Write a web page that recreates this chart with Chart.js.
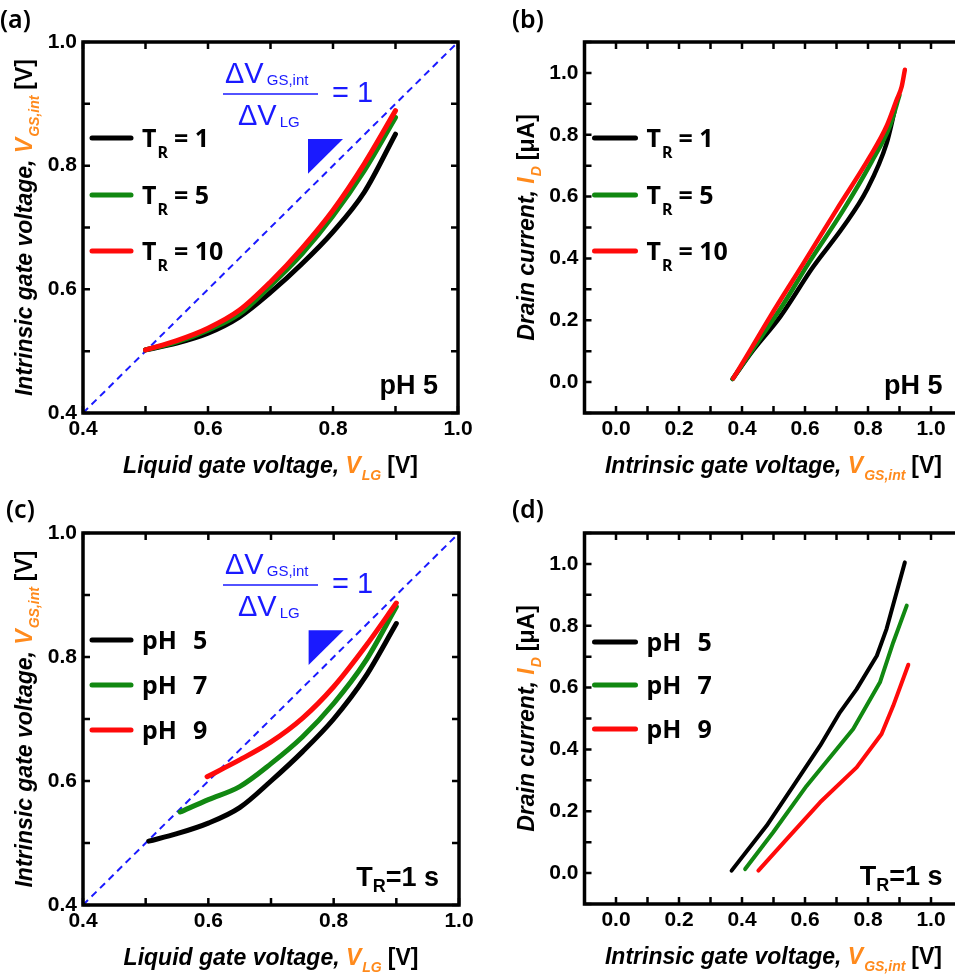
<!DOCTYPE html>
<html lang="en">
<head>
<meta charset="UTF-8">
<title>Intrinsic gate voltage and drain current</title>
<script src="https://cdn.jsdelivr.net/npm/chart.js"></script>
<style>
    html, body { margin: 0; padding: 0; background: #fff; overflow: hidden; }
    #page { position: relative; width: 955px; height: 979px; overflow: hidden; }
    canvas { position: absolute; }
</style>
</head>
<body>
<div id="page">
    <canvas id="chartA" width="480" height="490" style="left:0;top:0"></canvas>
    <canvas id="chartB" width="500" height="490" style="left:480px;top:0"></canvas>
    <canvas id="chartC" width="480" height="489" style="left:0;top:490px"></canvas>
    <canvas id="chartD" width="500" height="489" style="left:480px;top:490px"></canvas>
</div>
<script>
// (a) pH 5 : V_LG -> V_GS,int for three T_R
const vlgA      = [0.50, 0.55, 0.60, 0.65, 0.70, 0.75, 0.80, 0.85, 0.90];
const vgsA_TR1  = [0.502, 0.513, 0.529, 0.555, 0.595, 0.641, 0.693, 0.757, 0.851];
const vgsA_TR5  = [0.502, 0.515, 0.534, 0.560, 0.606, 0.657, 0.719, 0.792, 0.878];
const vgsA_TR10 = [0.502, 0.517, 0.537, 0.566, 0.612, 0.666, 0.728, 0.803, 0.889];

// (b) pH 5 : V_GS,int -> I_D
const vgsB_TR1  = [0.370, 0.436, 0.521, 0.626, 0.722, 0.796, 0.859, 0.885];
const idB_TR1   = [0.010, 0.104, 0.211, 0.373, 0.503, 0.621, 0.772, 0.880];
const vgsB_TR5  = [0.370, 0.450, 0.530, 0.611, 0.722, 0.810, 0.870, 0.900];
const idB_TR5   = [0.010, 0.130, 0.250, 0.384, 0.557, 0.710, 0.830, 0.929];
const vgsB_TR10 = [0.372, 0.430, 0.489, 0.595, 0.700, 0.806, 0.860, 0.891, 0.907, 0.917];
const idB_TR10  = [0.012, 0.110, 0.211, 0.384, 0.557, 0.729, 0.830, 0.913, 0.956, 1.010];

// (c) T_R = 1 s : V_LG -> V_GS,int for three pH
const vlgC_pH5 = [0.505, 0.55, 0.60, 0.65, 0.70, 0.75, 0.80, 0.85, 0.90];
const vgsC_pH5 = [0.503, 0.515, 0.532, 0.557, 0.600, 0.647, 0.700, 0.767, 0.854];
const vlgC_pH7 = [0.555, 0.60, 0.65, 0.70, 0.75, 0.80, 0.85, 0.90];
const vgsC_pH7 = [0.550, 0.570, 0.591, 0.628, 0.671, 0.725, 0.792, 0.881];
const vlgC_pH9 = [0.598, 0.65, 0.70, 0.75, 0.80, 0.85, 0.90];
const vgsC_pH9 = [0.607, 0.634, 0.663, 0.701, 0.752, 0.816, 0.887];

// (d) T_R = 1 s : V_GS,int -> I_D
const vgsD_pH5 = [0.367, 0.478, 0.563, 0.648, 0.711, 0.764, 0.828, 0.859, 0.917];
const idD_pH5  = [0.008, 0.153, 0.282, 0.412, 0.520, 0.595, 0.703, 0.790, 1.005];
const vgsD_pH7 = [0.410, 0.499, 0.605, 0.753, 0.838, 0.880, 0.923];
const idD_pH7  = [0.013, 0.132, 0.282, 0.466, 0.617, 0.746, 0.865];
const vgsD_pH9 = [0.452, 0.542, 0.648, 0.764, 0.843, 0.880, 0.928];
const idD_pH9  = [0.008, 0.110, 0.229, 0.342, 0.450, 0.541, 0.674];

// unity line and slope triangle (data units)
const unityLine = [0.4, 1.0];
const triX = [0.760, 0.816, 0.760];
const triY = [0.843, 0.843, 0.787];

const legendTR = ['1', '5', '10'];
const legendPH = ['5', '7', '9'];

const BLACK = '#000000', GREEN = '#118811', RED = '#ff0a0a', BLUE = '#1a1aff', ORANGE = '#ff8a1c';
const seriesColors = [BLACK, GREEN, RED];

const TITLE = 'italic bold 23px "Liberation Sans", Arial, sans-serif';
const TITLE_SUB = 'italic bold 14px "Liberation Sans", Arial, sans-serif';
const UPRIGHT = 'bold 23px "Liberation Sans", Arial, sans-serif';
const LEG = 'bold 25px "Noto Sans", sans-serif';
const LEG_SUB = 'bold 16px "Noto Sans", sans-serif';
const NOTE = 'bold 27px "Liberation Sans", Arial, sans-serif';
const NOTE_SUB = 'bold 18px "Liberation Sans", Arial, sans-serif';
const FRAC = '29px "Liberation Sans", Arial, sans-serif';
const FRAC_SUB = '15px "Liberation Sans", Arial, sans-serif';

function pts(xs, ys) { return xs.map((x, i) => ({ x: x, y: ys[i] })); }

function rich(ctx, parts, x, y, align) {
    let w = 0;
    parts.forEach(p => { ctx.font = p.f; w += ctx.measureText(p.t).width + (p.gap || 0); });
    let cx = align === 'center' ? x - w / 2 : align === 'right' ? x - w : x;
    parts.forEach(p => {
        ctx.font = p.f;
        ctx.fillStyle = p.c || '#000';
        ctx.fillText(p.t, cx, y + (p.dy || 0));
        cx += ctx.measureText(p.t).width + (p.gap || 0);
    });
}

function curve(xs, ys, color, order, width, smooth) {
    return {
        data: pts(xs, ys), borderColor: color, borderWidth: width, pointRadius: 0,
        showLine: true, fill: false, order: order, borderCapStyle: 'round', borderJoinStyle: 'round',
        tension: smooth ? 0.4 : 0, cubicInterpolationMode: smooth ? 'monotone' : 'default'
    };
}

function tenthLabel(v) {
    return Math.round(v * 10) % 2 === 0 ? v.toFixed(1) : '';
}

function makePanel(id, cfg) {
    const canvas = document.getElementById(id);
    const W = canvas.width, H = canvas.height;

    const decor = {
        id: 'decor',
        afterDraw(chart) {
            const ctx = chart.ctx, ca = chart.chartArea, xs = chart.scales.x, ys = chart.scales.y;
            ctx.save();
            ctx.textBaseline = 'alphabetic';
            ctx.textAlign = 'left';

            // slope triangle + fraction
            if (cfg.slope) {
                ctx.fillStyle = BLUE;
                ctx.beginPath();
                triX.forEach((v, i) => {
                    const px = xs.getPixelForValue(v), py = ys.getPixelForValue(triY[i]);
                    if (i === 0) ctx.moveTo(px, py); else ctx.lineTo(px, py);
                });
                ctx.closePath();
                ctx.fill();

                const L = ca.left, T = ca.top;
                rich(ctx, [{ t: 'ΔV', f: FRAC, c: BLUE, gap: 3 }, { t: 'GS,int', f: FRAC_SUB, c: BLUE, dy: 2 }], L + 142, T + 41, 'left');
                ctx.strokeStyle = BLUE; ctx.lineWidth = 1.5;
                ctx.beginPath(); ctx.moveTo(L + 140, T + 52); ctx.lineTo(L + 235, T + 52); ctx.stroke();
                rich(ctx, [{ t: 'ΔV', f: FRAC, c: BLUE, gap: 3 }, { t: 'LG', f: FRAC_SUB, c: BLUE, dy: 2 }], L + 155, T + 83, 'left');
                rich(ctx, [{ t: '= 1', f: FRAC, c: BLUE }], L + 249, T + 60, 'left');
            }

            // frame and inward ticks
            ctx.strokeStyle = '#000';
            ctx.lineWidth = 3.5;
            ctx.strokeRect(ca.left, ca.top, ca.right - ca.left, ca.bottom - ca.top);
            ctx.lineWidth = 2.5;
            ctx.beginPath();
            xs.ticks.forEach(t => {
                const p = xs.getPixelForValue(t.value);
                ctx.moveTo(p, ca.bottom); ctx.lineTo(p, ca.bottom - 7);
                ctx.moveTo(p, ca.top); ctx.lineTo(p, ca.top + 7);
            });
            ys.ticks.forEach(t => {
                const p = ys.getPixelForValue(t.value);
                ctx.moveTo(ca.left, p); ctx.lineTo(ca.left + 7, p);
                ctx.moveTo(ca.right, p); ctx.lineTo(ca.right - 7, p);
            });
            ctx.stroke();

            // axis titles
            rich(ctx, cfg.xTitle, (ca.left + ca.right) / 2, ca.bottom + 60, 'center');
            ctx.save();
            ctx.translate(ca.left - 51, (ca.top + ca.bottom) / 2);
            ctx.rotate(-Math.PI / 2);
            rich(ctx, cfg.yTitle, 0, 0, 'center');
            ctx.restore();

            // legend
            cfg.legend.rows.forEach((row, i) => {
                const y = ca.top + cfg.legend.y[i];
                ctx.strokeStyle = seriesColors[i];
                ctx.lineWidth = 5;
                ctx.lineCap = 'round';
                ctx.beginPath();
                ctx.moveTo(ca.left + cfg.legend.x0, y);
                ctx.lineTo(ca.left + cfg.legend.x1, y);
                ctx.stroke();
                rich(ctx, row, ca.left + cfg.legend.tx, y + 9, 'left');
            });

            // condition note
            rich(ctx, cfg.note, ca.right - 20, ca.bottom - 19, 'right');

            // panel label
            rich(ctx, [{ t: cfg.label, f: '600 25px "Noto Sans", sans-serif' }], cfg.labelX, cfg.labelY, 'left');
            ctx.restore();
        }
    };

    const tickFont = { family: '"Liberation Sans", Arial', size: 21, weight: 'bold' };

    return new Chart(canvas.getContext('2d'), {
        type: 'scatter',
        data: { datasets: cfg.datasets },
        options: {
            responsive: false,
            animation: false,
            layout: { padding: { left: 0, top: cfg.top, right: W - cfg.right, bottom: 0 } },
            plugins: { legend: { display: false }, tooltip: { enabled: false } },
            scales: {
                x: {
                    type: 'linear', min: cfg.xMin, max: cfg.xMax,
                    grid: { display: false, drawTicks: false }, border: { display: false },
                    ticks: { stepSize: 0.1, autoSkip: false, maxRotation: 0, padding: 4,
                             color: '#000', font: tickFont, callback: tenthLabel },
                    afterFit: s => { s.height = H - cfg.bottom; }
                },
                y: {
                    type: 'linear', min: cfg.yMin, max: cfg.yMax,
                    grid: { display: false, drawTicks: false }, border: { display: false },
                    ticks: { stepSize: 0.1, autoSkip: false, padding: 6,
                             color: '#000', font: tickFont, callback: tenthLabel },
                    afterFit: s => { s.width = cfg.left; }
                }
            }
        },
        plugins: [decor]
    });
}

function trRow(v) {
    return [{ t: 'T', f: LEG, gap: 1 }, { t: 'R', f: LEG_SUB, dy: 11, gap: 6 }, { t: '= ' + v, f: LEG }];
}
function phRow(v) {
    return [{ t: 'pH', f: LEG, gap: 16 }, { t: v, f: LEG }];
}

const xTitleLG = [
    { t: 'Liquid gate voltage, ', f: TITLE },
    { t: 'V', f: TITLE, c: ORANGE, gap: 1 },
    { t: 'LG', f: TITLE_SUB, c: ORANGE, dy: 7, gap: 6 },
    { t: '[V]', f: UPRIGHT }
];
const titleVGS = [
    { t: 'Intrinsic gate voltage, ', f: TITLE },
    { t: 'V', f: TITLE, c: ORANGE, gap: 1 },
    { t: 'GS,int', f: TITLE_SUB, c: ORANGE, dy: 7, gap: 6 },
    { t: '[V]', f: UPRIGHT }
];
const yTitleID = [
    { t: 'Drain current, ', f: TITLE },
    { t: 'I', f: TITLE, c: ORANGE, gap: 1 },
    { t: 'D', f: TITLE_SUB, c: ORANGE, dy: 7, gap: 6 },
    { t: '[μA]', f: UPRIGHT }
];
const notePH5 = [{ t: 'pH 5', f: NOTE }];
const noteTR1 = [{ t: 'T', f: NOTE }, { t: 'R', f: NOTE_SUB, dy: 6 }, { t: '=1 s', f: NOTE }];

const unity = {
    data: pts(unityLine, unityLine), borderColor: BLUE, borderWidth: 2, borderDash: [7, 5],
    pointRadius: 0, showLine: true, fill: false, order: 5
};

makePanel('chartA', {
    left: 83, right: 458, top: 42, bottom: 413,
    xMin: 0.4, xMax: 1.0, yMin: 0.4, yMax: 1.0, slope: true,
    datasets: [
        unity,
        curve(vlgA, vgsA_TR1, BLACK, 3, 5, true),
        curve(vlgA, vgsA_TR5, GREEN, 2, 5, true),
        curve(vlgA, vgsA_TR10, RED, 1, 5, true)
    ],
    xTitle: xTitleLG, yTitle: titleVGS,
    legend: { rows: legendTR.map(trRow), y: [96, 153, 209], x0: 9, x1: 48, tx: 59 },
    note: notePH5, label: '(a)', labelX: 0, labelY: 28
});

makePanel('chartB', {
    left: 104.5, right: 482.5, top: 42, bottom: 413,
    xMin: -0.1, xMax: 1.1, yMin: -0.1, yMax: 1.1,
    datasets: [
        curve(vgsB_TR1, idB_TR1, BLACK, 3, 4.5, true),
        curve(vgsB_TR5, idB_TR5, GREEN, 2, 4.5, true),
        curve(vgsB_TR10, idB_TR10, RED, 1, 4.5, true)
    ],
    xTitle: titleVGS, yTitle: yTitleID,
    legend: { rows: legendTR.map(trRow), y: [96, 153, 209], x0: 10, x1: 51, tx: 62 },
    note: notePH5, label: '(b)', labelX: 32, labelY: 28
});

makePanel('chartC', {
    left: 83, right: 459, top: 43, bottom: 415,
    xMin: 0.4, xMax: 1.0, yMin: 0.4, yMax: 1.0, slope: true,
    datasets: [
        unity,
        curve(vlgC_pH5, vgsC_pH5, BLACK, 3, 5, true),
        curve(vlgC_pH7, vgsC_pH7, GREEN, 2, 5, true),
        curve(vlgC_pH9, vgsC_pH9, RED, 1, 5, true)
    ],
    xTitle: xTitleLG, yTitle: titleVGS,
    legend: { rows: legendPH.map(phRow), y: [107, 152, 197], x0: 9, x1: 48, tx: 59 },
    note: noteTR1, label: '(c)', labelX: 6, labelY: 28
});

makePanel('chartD', {
    left: 104.5, right: 482.5, top: 43, bottom: 414,
    xMin: -0.1, xMax: 1.1, yMin: -0.1, yMax: 1.1,
    datasets: [
        curve(vgsD_pH5, idD_pH5, BLACK, 3, 4, false),
        curve(vgsD_pH7, idD_pH7, GREEN, 2, 4, false),
        curve(vgsD_pH9, idD_pH9, RED, 1, 4, false)
    ],
    xTitle: titleVGS, yTitle: yTitleID,
    legend: { rows: legendPH.map(phRow), y: [109, 152, 196], x0: 10, x1: 51, tx: 62 },
    note: noteTR1, label: '(d)', labelX: 32, labelY: 28
});
</script>
</body>
</html>
